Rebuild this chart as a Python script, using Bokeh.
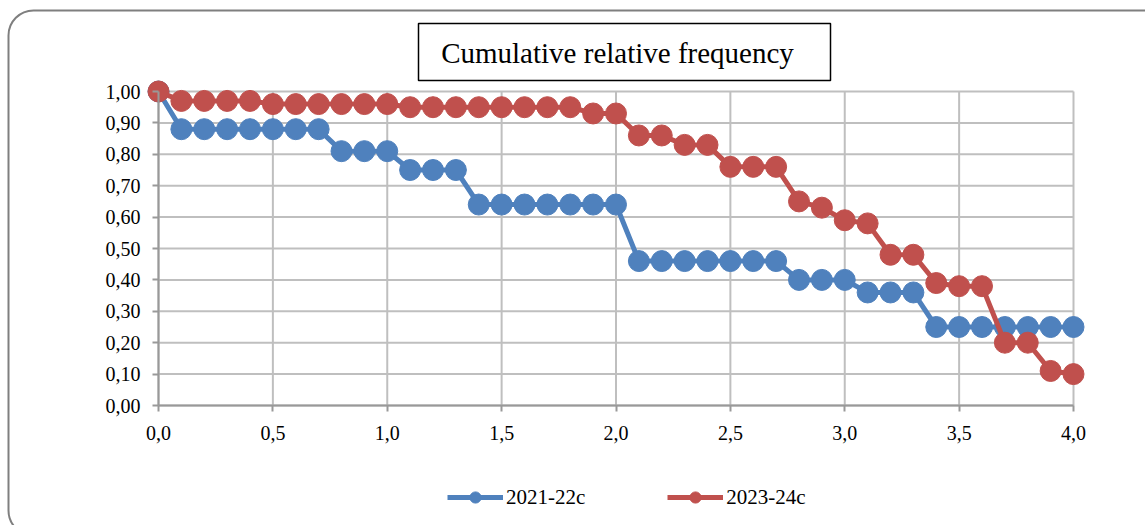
from bokeh.plotting import figure
from bokeh.models import (Range1d, BoxAnnotation, Label, Legend, LegendItem,
                          CustomJSTickFormatter, FixedTicker, ColumnDataSource)
from bokeh.embed import file_html
from bokeh.resources import INLINE

# ---- data ----
x_values = [0.0, 0.1, 0.2, 0.3, 0.4, 0.5, 0.6, 0.7, 0.8, 0.9, 1.0,
            1.1, 1.2, 1.3, 1.4, 1.5, 1.6, 1.7, 1.8, 1.9, 2.0,
            2.1, 2.2, 2.3, 2.4, 2.5, 2.6, 2.7, 2.8, 2.9, 3.0,
            3.1, 3.2, 3.3, 3.4, 3.5, 3.6, 3.7, 3.8, 3.9, 4.0]
series_2021_22c = [1.00, 0.88, 0.88, 0.88, 0.88, 0.88, 0.88, 0.88, 0.81, 0.81, 0.81,
                   0.75, 0.75, 0.75, 0.64, 0.64, 0.64, 0.64, 0.64, 0.64, 0.64,
                   0.46, 0.46, 0.46, 0.46, 0.46, 0.46, 0.46, 0.40, 0.40, 0.40,
                   0.36, 0.36, 0.36, 0.25, 0.25, 0.25, 0.25, 0.25, 0.25, 0.25]
series_2023_24c = [1.00, 0.97, 0.97, 0.97, 0.97, 0.96, 0.96, 0.96, 0.96, 0.96, 0.96,
                   0.95, 0.95, 0.95, 0.95, 0.95, 0.95, 0.95, 0.95, 0.93, 0.93,
                   0.86, 0.86, 0.83, 0.83, 0.76, 0.76, 0.76, 0.65, 0.63, 0.59,
                   0.58, 0.48, 0.48, 0.39, 0.38, 0.38, 0.20, 0.20, 0.11, 0.10]
series_names = ["2021-22c", "2023-24c"]
x_ticks = [0.0, 0.5, 1.0, 1.5, 2.0, 2.5, 3.0, 3.5, 4.0]
y_ticks = [0.0, 0.1, 0.2, 0.3, 0.4, 0.5, 0.6, 0.7, 0.8, 0.9, 1.0]
title_text = "Cumulative relative frequency"

BLUE = "#4F81BD"
RED = "#C0504D"
GRID = "#BFBFBF"
AXIS = "#999999"
FONT = "Liberation Serif"

# ---- geometry (pixels) ----
W, H = 1145, 525
X0_PX, X1_PX = 158, 1073      # x=0 and x=4
Y0_PX, Y1_PX = 405, 91        # y=0 and y=1 (from top)
xs = (X1_PX - X0_PX) / 4.0
ys = (Y0_PX - Y1_PX) / 1.0

def dx(px):
    return (px - X0_PX) / xs

def dy(py):
    return (Y0_PX - py) / ys

p = figure(width=W, height=H, output_backend="svg", toolbar_location=None,
           x_range=Range1d(dx(0), dx(W)), y_range=Range1d(dy(H), dy(0)),
           min_border=0, min_border_left=0, min_border_right=0,
           min_border_top=0, min_border_bottom=0)
p.outline_line_color = None
p.xgrid.visible = False
p.ygrid.visible = False
p.background_fill_color = "white"
p.border_fill_color = "white"

# outer rounded frame
p.add_layout(BoxAnnotation(left=dx(8), right=dx(1168), top=dy(10), bottom=dy(535),
                           fill_color=None, fill_alpha=0, line_color="#7F7F7F",
                           line_alpha=1, line_width=2,
                           border_radius=25, level="underlay"))

# grid lines (from tick lists)
p.segment(x0=[0] * len(y_ticks), x1=[4] * len(y_ticks), y0=y_ticks, y1=y_ticks,
          line_color=GRID, line_width=2)
p.segment(x0=x_ticks, x1=x_ticks, y0=[0] * len(x_ticks), y1=[1] * len(x_ticks),
          line_color=GRID, line_width=2)

# axes
p.xaxis.bounds = (0, 4)
p.yaxis.bounds = (0, 1)
p.xaxis.fixed_location = 0
p.yaxis.fixed_location = 0
p.xaxis.ticker = FixedTicker(ticks=x_ticks)
p.yaxis.ticker = FixedTicker(ticks=y_ticks)
p.xaxis.formatter = CustomJSTickFormatter(code="return tick.toFixed(1).replace('.', ',');")
p.yaxis.formatter = CustomJSTickFormatter(code="return tick.toFixed(2).replace('.', ',');")
for ax in (p.xaxis, p.yaxis):
    ax.axis_line_color = AXIS
    ax.axis_line_width = 2
    ax.major_tick_line_color = AXIS
    ax.major_tick_line_width = 2
    ax.major_tick_out = 6
    ax.major_tick_in = 0
    ax.minor_tick_line_color = None
    ax.major_label_text_font = FONT
    ax.major_label_text_font_size = "20px"
    ax.major_label_text_color = "black"
p.yaxis.major_label_standoff = 12
p.xaxis.major_label_standoff = 14

# data
src = ColumnDataSource(dict(x=x_values, a=series_2021_22c, b=series_2023_24c))
la = p.line("x", "a", source=src, line_color=BLUE, line_width=5)
da = p.scatter("x", "a", source=src, size=11, fill_color=BLUE, line_color=BLUE)   # legend marker (hidden under big markers)
sa = p.scatter("x", "a", source=src, size=21, fill_color=BLUE, line_color=BLUE)
lb = p.line("x", "b", source=src, line_color=RED, line_width=5)
db = p.scatter("x", "b", source=src, size=11, fill_color=RED, line_color=RED)
sb = p.scatter("x", "b", source=src, size=21, fill_color=RED, line_color=RED)

legend = Legend(items=[LegendItem(label=series_names[0], renderers=[la, da]),
                       LegendItem(label=series_names[1], renderers=[lb, db])],
                orientation="horizontal", location=(447, H - 511),
                glyph_width=56, glyph_height=28, label_standoff=3, spacing=82,
                padding=0, margin=0, border_line_color=None, background_fill_alpha=0,
                label_text_font=FONT, label_text_font_size="21px",
                label_text_color="black")
p.add_layout(legend, "center")

# title box
p.add_layout(BoxAnnotation(left=dx(418), right=dx(830), top=dy(23), bottom=dy(80),
                           fill_color="white", fill_alpha=1, line_color="black",
                           line_alpha=1, line_width=1.5))
p.add_layout(Label(x=dx(617), y=dy(52), text=title_text, text_align="center",
                   text_baseline="middle", text_font=FONT, text_font_size="29px",
                   text_color="black"))

open("out.html", "w").write(file_html(p, INLINE))
